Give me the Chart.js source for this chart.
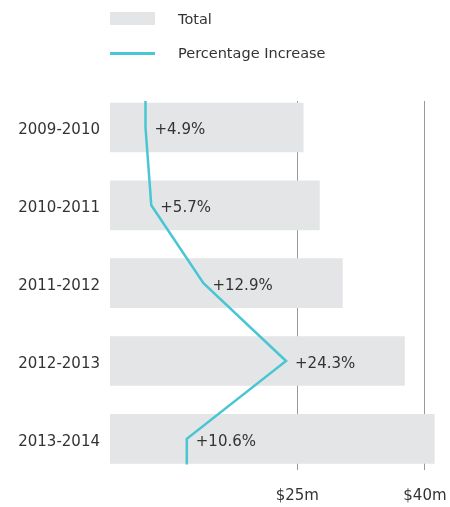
<!DOCTYPE html>
<html>
<head>
<meta charset="utf-8">
<script src="https://cdn.jsdelivr.net/npm/chart.js@4"></script>
<style>
  body { margin: 0; background: #fff; }
  #wrap { position: relative; width: 450px; height: 507px; }
  .legend-item { position: absolute; left: 110px; font-family: 'DejaVu Sans', sans-serif; font-size: 14.5px; color: #333; }
  .legend-item .swatch { position: absolute; left: 0; }
  .legend-item span.txt { position: absolute; left: 68px; white-space: nowrap; transform: translateY(-50%); }
</style>
</head>
<body>
<div id="wrap">
  <canvas id="chart" width="450" height="507"></canvas>
  <div class="legend-item" style="top:19px">
    <div class="swatch" style="top:-7px;width:45px;height:13px;background:#e4e5e7"></div>
    <span class="txt">Total</span>
  </div>
  <div class="legend-item" style="top:53px">
    <div class="swatch" style="top:-1px;width:45px;height:2.5px;background:#48c6d3"></div>
    <span class="txt">Percentage Increase</span>
  </div>
</div>
<script>
const categories = ['2009-2010', '2010-2011', '2011-2012', '2012-2013', '2013-2014'];
const totals = [25.7, 27.6, 30.3, 37.6, 41.1];          // $m
const pctIncrease = [4.9, 5.7, 12.9, 24.3, 10.6];       // %
const totalTicks = [25, 40];

const barColor = '#e4e5e7';
const lineColor = '#48c6d3';
const Y_MIN = -0.34, Y_MAX = 4.4;
const LINE_TOP = -0.34, LINE_BOTTOM = 4.33;

Chart.defaults.font.family = "'DejaVu Sans', sans-serif";
Chart.defaults.font.size = 15;
Chart.defaults.color = '#333';

// line runs from the top edge through every point to the bottom edge
const linePoints = [{ x: pctIncrease[0], y: LINE_TOP }]
  .concat(pctIncrease.map((v, i) => ({ x: v, y: i })))
  .concat([{ x: pctIncrease[pctIncrease.length - 1], y: LINE_BOTTOM }]);

const pctLabels = {
  id: 'pctLabels',
  afterDatasetsDraw(chart) {
    const meta = chart.getDatasetMeta(0);
    const ctx = chart.ctx;
    ctx.save();
    ctx.font = "15px 'DejaVu Sans', sans-serif";
    ctx.fillStyle = '#333';
    ctx.textBaseline = 'middle';
    ctx.textAlign = 'left';
    pctIncrease.forEach((v, i) => {
      const pt = meta.data[i + 1];
      ctx.fillText('+' + v + '%', pt.x + 9, pt.y + 3);
    });
    ctx.restore();
  }
};

new Chart(document.getElementById('chart'), {
  type: 'bar',
  data: {
    datasets: [
      {
        type: 'line',
        label: 'Percentage Increase',
        data: linePoints,
        xAxisID: 'xPct',
        yAxisID: 'y',
        borderColor: lineColor,
        borderWidth: 2.5,
        pointRadius: 0,
        tension: 0,
        fill: false,
        order: 0
      },
      {
        label: 'Total',
        data: totals.map((v, i) => ({ x: v, y: i })),
        xAxisID: 'x',
        yAxisID: 'y',
        backgroundColor: barColor,
        barThickness: 49,
        borderWidth: 0,
        order: 1
      }
    ]
  },
  options: {
    indexAxis: 'y',
    responsive: false,
    animation: false,
    layout: { padding: { top: 101, right: 14, bottom: 0, left: 0 } },
    plugins: { legend: { display: false }, tooltip: { enabled: false } },
    scales: {
      y: {
        type: 'linear',
        reverse: true,
        offset: false,
        min: Y_MIN,
        max: Y_MAX,
        afterBuildTicks: (scale) => { scale.ticks = categories.map((c, i) => ({ value: i })); },
        afterFit: (scale) => { scale.width = 110; scale.paddingTop = 0; scale.paddingBottom = 0; },
        ticks: { autoSkip: false, padding: 10, labelOffset: 3, callback: (v) => categories[v], color: '#333' },
        grid: { display: false, drawTicks: false, offset: false },
        border: { display: false }
      },
      x: {
        type: 'linear',
        position: 'bottom',
        offset: false,
        min: 3,
        max: 41.3,
        afterBuildTicks: (scale) => { scale.ticks = totalTicks.map(v => ({ value: v })); },
        afterFit: (scale) => { scale.height = 37; scale.paddingLeft = 0; scale.paddingRight = 0; },
        ticks: { padding: 17, callback: (v) => '$' + v + 'm', color: '#333', maxRotation: 0 },
        grid: { color: '#999', lineWidth: 1, drawTicks: false },
        border: { display: false }
      },
      xPct: {
        type: 'linear',
        display: false,
        offset: false,
        min: 0,
        max: 45
      }
    }
  },
  plugins: [pctLabels]
});
</script>
</body>
</html>
